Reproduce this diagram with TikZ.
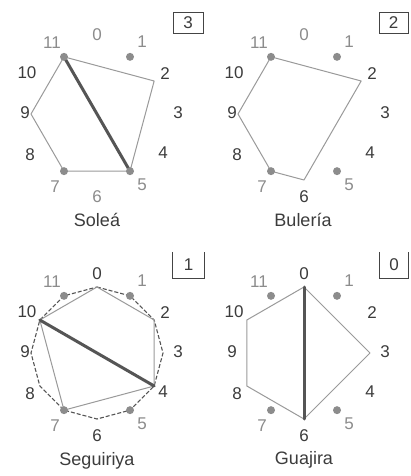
\documentclass[tikz,border=0pt]{standalone}
\usepackage{fontspec}
\setmainfont{Liberation Sans}
\definecolor{labdark}{HTML}{3C3C3C}
\definecolor{lablight}{HTML}{8C8C8C}
\definecolor{polyc}{HTML}{9A9A9A}
\definecolor{thickc}{HTML}{555555}
\definecolor{dashc}{HTML}{555555}
\definecolor{dotc}{HTML}{8C8C8C}
\definecolor{boxc}{HTML}{444444}
\tikzset{
  lab/.style={inner sep=0pt, font=\fontsize{17}{17}\selectfont},
  title/.style={inner sep=0pt, anchor=base, text=labdark, font=\fontsize{18}{18}\selectfont},
  dotn/.style={circle, fill=dotc, inner sep=0pt, minimum size=8pt},
  poly/.style={draw=polyc, line width=1pt, line join=round},
  chord/.style={draw=thickc, line width=3pt, line cap=round},
  dodec/.style={draw=dashc, line width=1.1pt, dash pattern=on 4pt off 2pt},
  boxn/.style={inner sep=0pt, text=labdark, font=\fontsize{17}{17}\selectfont},
  boxline/.style={draw=boxc, line width=1pt}
}
% #1 prefix, #2 centre, #3 colour of label 0, #4 colour of label 6
\newcommand{\clockface}[4]{%
  \begin{scope}[shift={#2}]
    \foreach \k in {0,...,11} {\coordinate (#1\k) at ({30*\k-90}:66);}
    \foreach \k/\dx/\dy/\c in {0/0/-79/#3, 1/45/-72/lablight, 2/68/-40/labdark,
        3/81/-1/labdark, 4/66/39/labdark, 5/45/71/lablight, 6/0/83/#4,
        7/-42/73/lablight, 8/-67/41/labdark, 9/-72/-1/labdark,
        10/-70/-41/labdark, 11/-45/-71/lablight}
      {\node[lab, text=\c] (#1l\k) at (\dx,\dy) {\k};}
  \end{scope}}
\newcommand{\clockdots}[1]{%
  \foreach \k in {1,5,7,11} {\node[dotn] (#1d\k) at (#1\k) {};}}
\begin{document}
\begin{tikzpicture}[x=1pt,y=-1pt]
\useasboundingbox[fill=white] (0,0) rectangle (410,476);

% Solea
\clockface{A}{(97,114)}{lablight}{lablight}
\draw[poly] (A11) -- (A2) -- (A5) -- (A7) -- (A9) -- cycle;
\draw[chord] (A11) -- (A5);
\clockdots{A}
\node[title] (At) at (97,226) {Soleá};
\node[boxn, draw=boxc, line width=1pt, minimum width=30pt, minimum height=21pt] (Abox) at (188,23) {3};

% Buleria
\clockface{B}{(304,114)}{lablight}{labdark}
\draw[poly] (B11) -- (B2) -- (B6) -- (B7) -- (B9) -- cycle;
\clockdots{B}
\node[title] (Bt) at (303,226) {Bulería};
\node[boxn, draw=boxc, line width=1pt, minimum width=29pt, minimum height=21pt] (Bbox) at (393.5,23) {2};

% Seguiriya
\clockface{C}{(97,353)}{labdark}{labdark}
\draw[dodec] (C0) -- (C1) -- (C2) -- (C3) -- (C4) -- (C5) -- (C6) -- (C7) -- (C8) -- (C9) -- (C10) -- (C11) -- cycle;
\draw[poly] (C0) -- (C2) -- (C4) -- (C7) -- (C10) -- cycle;
\draw[chord] (C10) -- (C4);
\clockdots{C}
\node[title] (Ct) at (97,465) {Seguiriya};
\node[boxn, minimum width=31pt, minimum height=26pt] (Cbox) at (188.5,265) {1};
\draw[boxline] (Cbox.north west) -- (Cbox.south west) -- (Cbox.south east) -- (Cbox.north east);

% Guajira
\clockface{D}{(304,353)}{labdark}{labdark}
\draw[poly] (D0) -- (D3) -- (D6) -- (D8) -- (D10) -- cycle;
\draw[chord] (D0) -- (D6);
\clockdots{D}
\node[title] (Dt) at (304,464) {Guajira};
\node[boxn, minimum width=29pt, minimum height=26pt] (Dbox) at (394,265) {0};
\draw[boxline] (Dbox.north west) -- (Dbox.south west) -- (Dbox.south east) -- (Dbox.north east);
\end{tikzpicture}
\end{document}
